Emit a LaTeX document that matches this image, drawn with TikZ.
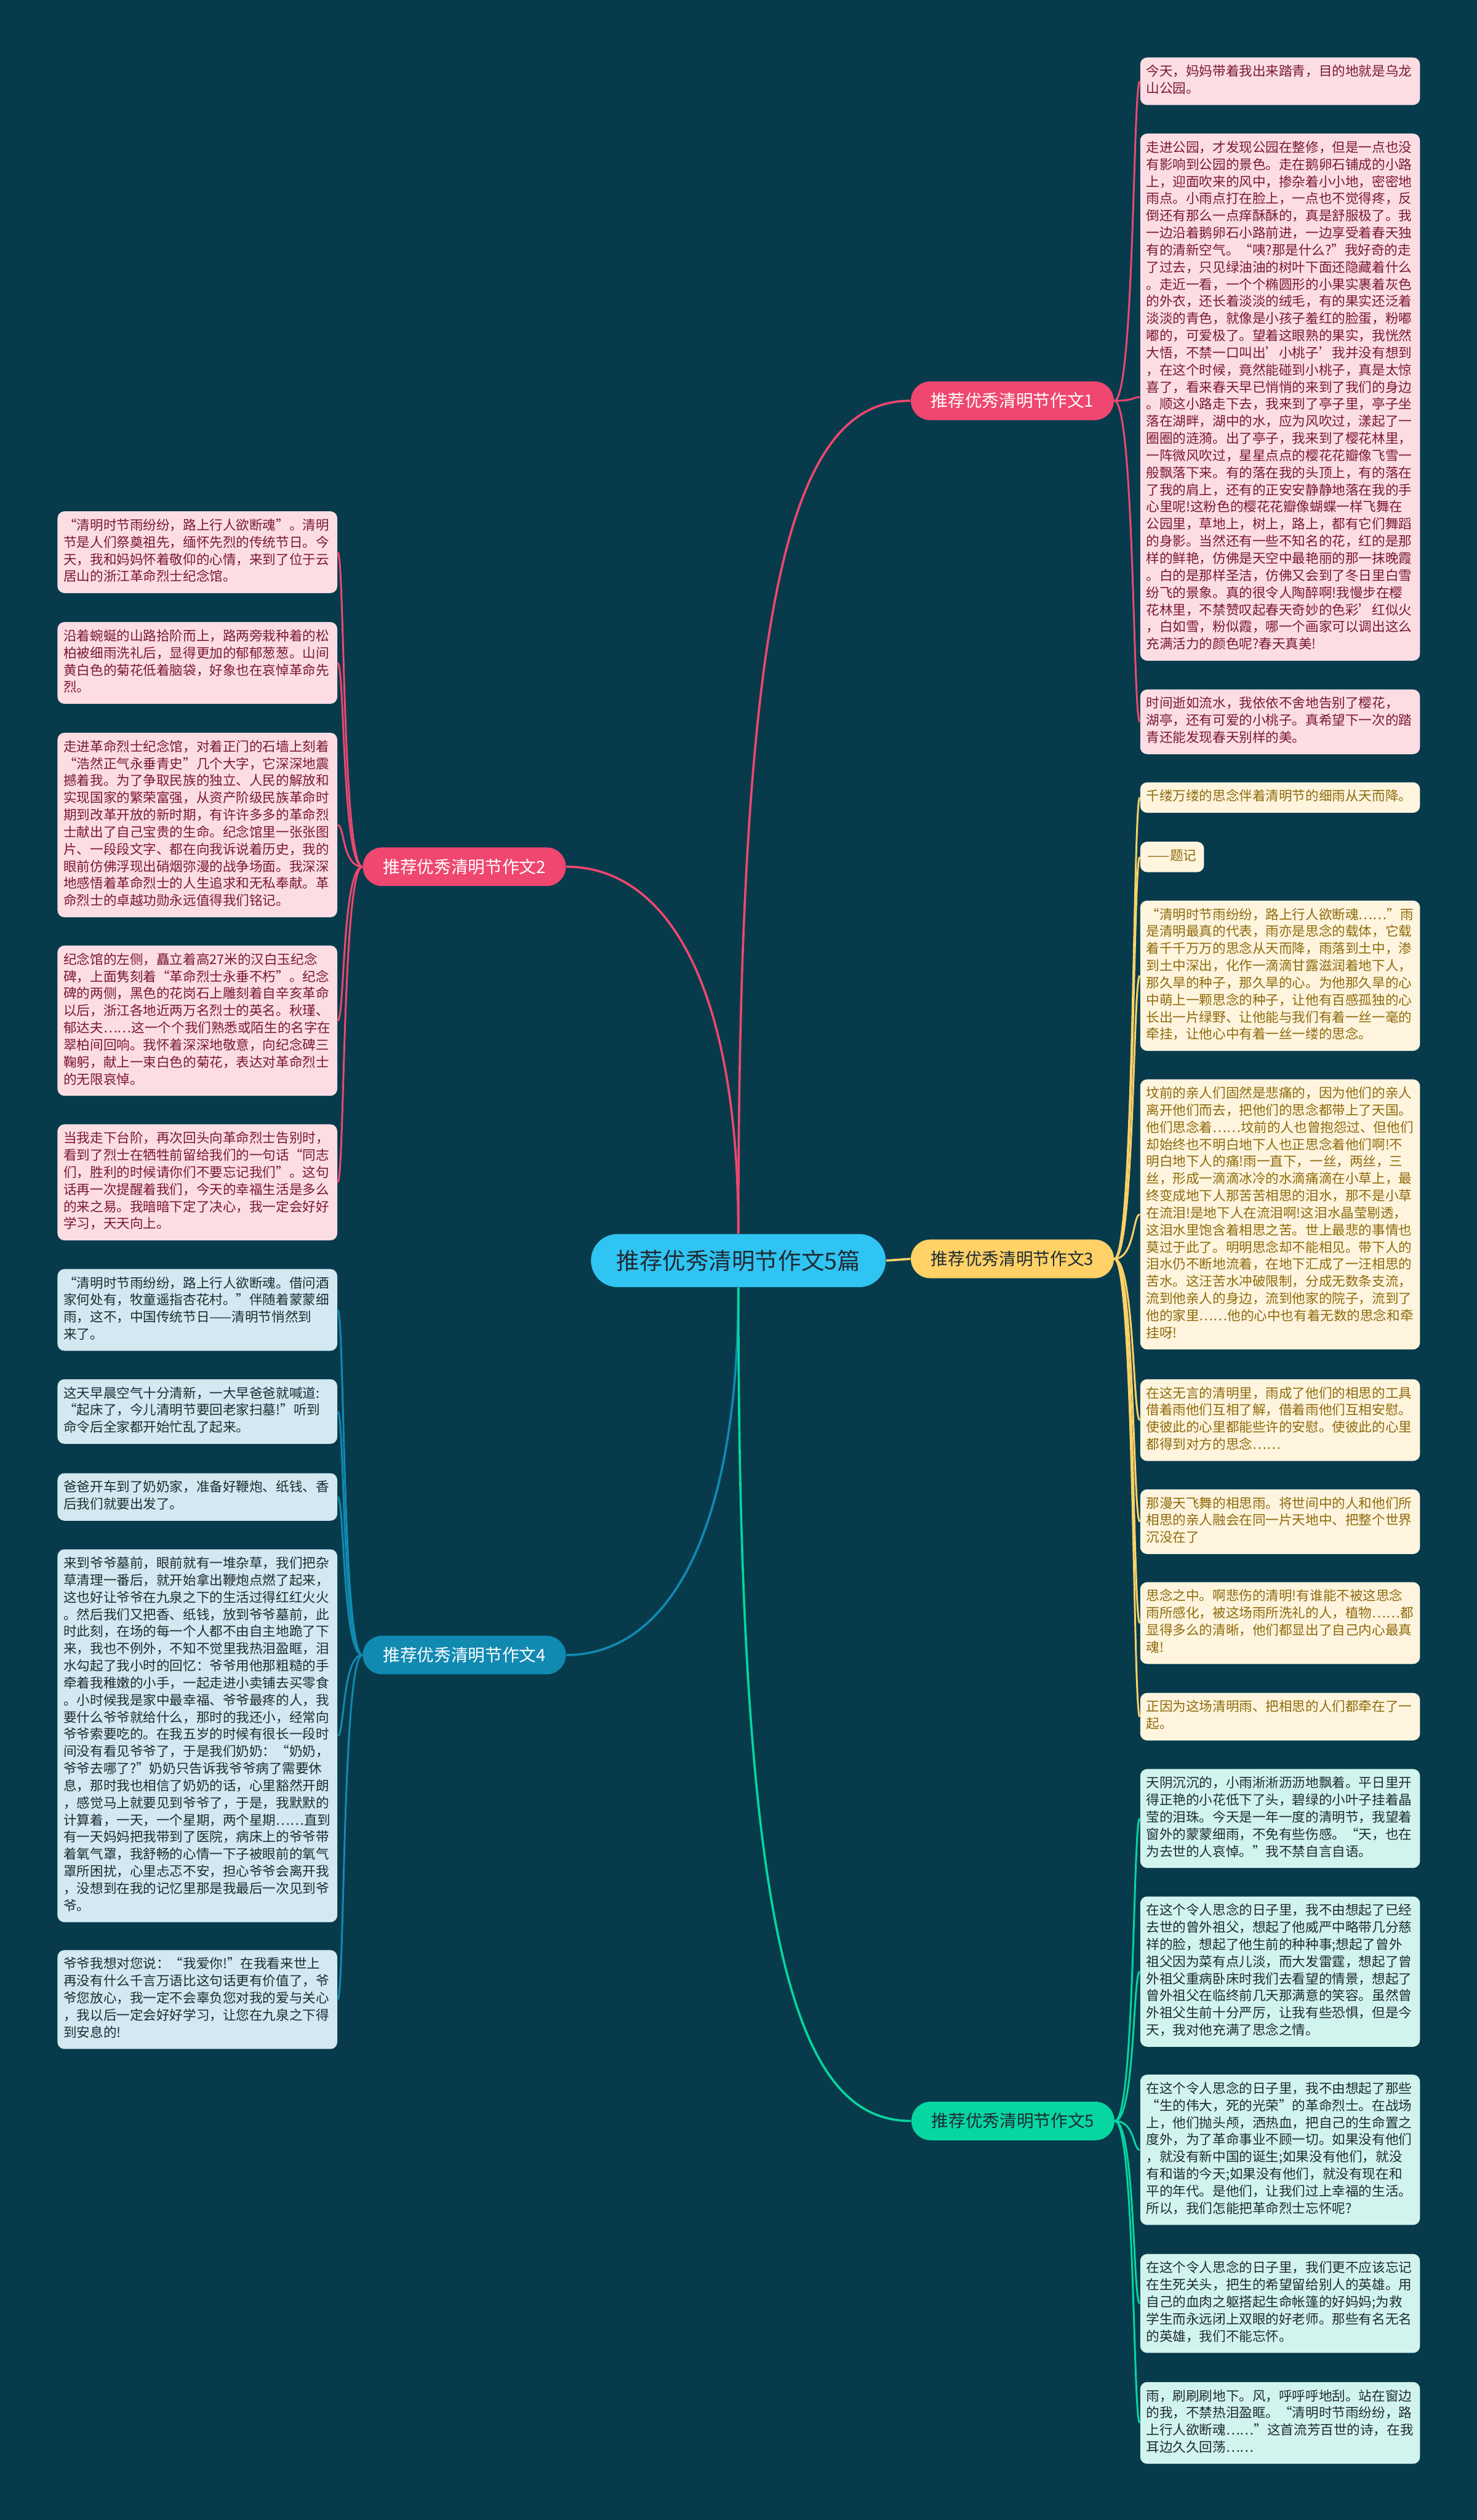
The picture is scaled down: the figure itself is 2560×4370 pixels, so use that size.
\documentclass[tikz,border=0pt]{standalone}
\usepackage{fontspec}
\setmainfont{Noto Sans CJK SC}
\definecolor{bg}{HTML}{073B4C}
\definecolor{rosa}{HTML}{EF476F}
\definecolor{gelb}{HTML}{FFD166}
\definecolor{gruen}{HTML}{06D6A0}
\definecolor{blau}{HTML}{118AB2}
\definecolor{himmel}{HTML}{30C4F3}
\definecolor{rosaleaf}{HTML}{FCDDE4}
\definecolor{gelbleaf}{HTML}{FFF5DF}
\definecolor{blauleaf}{HTML}{D3E8F0}
\definecolor{gruenleaf}{HTML}{D2F4EE}
\definecolor{rosatext}{HTML}{7A1835}
\definecolor{gelbtext}{HTML}{8F6A0A}
\definecolor{dunkel}{HTML}{1E2B33}

\begin{document}
\begin{tikzpicture}[x=0.1mm, y=-0.1mm,
        leaf/.style={anchor=north west, text width=46.4mm, align=left,
            inner xsep=1.05mm, inner ysep=1.15mm, rounded corners=1.2mm,
            font=\fontsize{6.55pt}{8.45pt}\selectfont,
            execute at begin node=\strut, execute at end node=\strut},
        rosabox/.style={leaf, fill=rosaleaf, text=rosatext},
        gelbbox/.style={leaf, fill=gelbleaf, text=gelbtext},
        blaubox/.style={leaf, fill=blauleaf, text=dunkel},
        gruenbox/.style={leaf, fill=gruenleaf, text=dunkel},
        topic/.style={minimum width=35.2mm, minimum height=6.7mm,
            rounded corners=3.35mm, inner sep=0pt,
            font=\fontsize{8.4pt}{10pt}\selectfont},
        link/.style={line width=0.9pt},
        trunk/.style={line width=1.1pt}]

        \useasboundingbox (0,0) rectangle (2560,4370);
        \fill[bg] (0,0) rectangle (2560,4370);

        % centre and branches
        \node[fill=himmel, text=dunkel, minimum width=51.1mm, minimum height=9.2mm,
            rounded corners=4.6mm, inner sep=0pt, font=\fontsize{11.4pt}{13pt}\selectfont]
            (T) at (1280,2186) {推荐优秀清明节作文5篇};
        \node[topic, fill=rosa, text=white] (P1) at (1755,695) {推荐优秀清明节作文1};
        \node[topic, fill=rosa, text=white] (P2) at (805,1503) {推荐优秀清明节作文2};
        \node[topic, fill=gelb, text=dunkel] (P3) at (1755,2183) {推荐优秀清明节作文3};
        \node[topic, fill=blau, text=white] (P4) at (805,2870) {推荐优秀清明节作文4};
        \node[topic, fill=gruen, text=dunkel] (P5) at (1756,3678) {推荐优秀清明节作文5};

        % essay 1
        \node[rosabox] (P1a) at (1976,99) {今天，妈妈带着我出来踏青，目的地就是乌龙\\
山公园。};
        \node[rosabox] (P1b) at (1976,231) {走进公园，才发现公园在整修，但是一点也没\\
有影响到公园的景色。走在鹅卵石铺成的小路\\
上，迎面吹来的风中，掺杂着小小地，密密地\\
雨点。小雨点打在脸上，一点也不觉得疼，反\\
倒还有那么一点痒酥酥的，真是舒服极了。我\\
一边沿着鹅卵石小路前进，一边享受着春天独\\
有的清新空气。“咦?那是什么?”我好奇的走\\
了过去，只见绿油油的树叶下面还隐藏着什么\\
。走近一看，一个个椭圆形的小果实裹着灰色\\
的外衣，还长着淡淡的绒毛，有的果实还泛着\\
淡淡的青色，就像是小孩子羞红的脸蛋，粉嘟\\
嘟的，可爱极了。望着这眼熟的果实，我恍然\\
大悟，不禁一口叫出'小桃子’我并没有想到\\
，在这个时候，竟然能碰到小桃子，真是太惊\\
喜了，看来春天早已悄悄的来到了我们的身边\\
。顺这小路走下去，我来到了亭子里，亭子坐\\
落在湖畔，湖中的水，应为风吹过，漾起了一\\
圈圈的涟漪。出了亭子，我来到了樱花林里，\\
一阵微风吹过，星星点点的樱花花瓣像飞雪一\\
般飘落下来。有的落在我的头顶上，有的落在\\
了我的肩上，还有的正安安静静地落在我的手\\
心里呢!这粉色的樱花花瓣像蝴蝶一样飞舞在\\
公园里，草地上，树上，路上，都有它们舞蹈\\
的身影。当然还有一些不知名的花，红的是那\\
样的鲜艳，仿佛是天空中最艳丽的那一抹晚霞\\
。白的是那样圣洁，仿佛又会到了冬日里白雪\\
纷飞的景象。真的很令人陶醉啊!我慢步在樱\\
花林里，不禁赞叹起春天奇妙的色彩'红似火\\
，白如雪，粉似霞，哪一个画家可以调出这么\\
充满活力的颜色呢?春天真美!};
        \node[rosabox] (P1c) at (1976,1195) {时间逝如流水，我依依不舍地告别了樱花，\\
湖亭，还有可爱的小桃子。真希望下一次的踏\\
青还能发现春天别样的美。};

        % essay 2
        \node[rosabox] (P2a) at (99,886) {“清明时节雨纷纷，路上行人欲断魂”。清明\\
节是人们祭奠祖先，缅怀先烈的传统节日。今\\
天，我和妈妈怀着敬仰的心情，来到了位于云\\
居山的浙江革命烈士纪念馆。};
        \node[rosabox] (P2b) at (99,1078) {沿着蜿蜒的山路拾阶而上，路两旁栽种着的松\\
柏被细雨洗礼后，显得更加的郁郁葱葱。山间\\
黄白色的菊花低着脑袋，好象也在哀悼革命先\\
烈。};
        \node[rosabox] (P2c) at (99,1270) {走进革命烈士纪念馆，对着正门的石墙上刻着\\
“浩然正气永垂青史”几个大字，它深深地震\\
撼着我。为了争取民族的独立、人民的解放和\\
实现国家的繁荣富强，从资产阶级民族革命时\\
期到改革开放的新时期，有许许多多的革命烈\\
士献出了自己宝贵的生命。纪念馆里一张张图\\
片、一段段文字、都在向我诉说着历史，我的\\
眼前仿佛浮现出硝烟弥漫的战争场面。我深深\\
地感悟着革命烈士的人生追求和无私奉献。革\\
命烈士的卓越功勋永远值得我们铭记。};
        \node[rosabox] (P2d) at (99,1639) {纪念馆的左侧，矗立着高27米的汉白玉纪念\\
碑，上面隽刻着“革命烈士永垂不朽”。纪念\\
碑的两侧，黑色的花岗石上雕刻着自辛亥革命\\
以后，浙江各地近两万名烈士的英名。秋瑾、\\
郁达夫……这一个个我们熟悉或陌生的名字在\\
翠柏间回响。我怀着深深地敬意，向纪念碑三\\
鞠躬，献上一束白色的菊花，表达对革命烈士\\
的无限哀悼。};
        \node[rosabox] (P2e) at (99,1949) {当我走下台阶，再次回头向革命烈士告别时，\\
看到了烈士在牺牲前留给我们的一句话“同志\\
们，胜利的时候请你们不要忘记我们”。这句\\
话再一次提醒着我们，今天的幸福生活是多么\\
的来之易。我暗暗下定了决心，我一定会好好\\
学习，天天向上。};

        % essay 3
        \node[gelbbox] (P3a) at (1976,1356) {千缕万缕的思念伴着清明节的细雨从天而降。};
        \node[gelbbox, text width=, inner xsep=1.3mm] (P3b) at (1976,1459) {——题记};
        \node[gelbbox] (P3c) at (1976,1561) {“清明时节雨纷纷，路上行人欲断魂……”雨\\
是清明最真的代表，雨亦是思念的载体，它载\\
着千千万万的思念从天而降，雨落到土中，渗\\
到土中深出，化作一滴滴甘露滋润着地下人，\\
那久旱的种子，那久旱的心。为他那久旱的心\\
中萌上一颗思念的种子，让他有百感孤独的心\\
长出一片绿野、让他能与我们有着一丝一毫的\\
牵挂，让他心中有着一丝一缕的思念。};
        \node[gelbbox] (P3d) at (1976,1871) {坟前的亲人们固然是悲痛的，因为他们的亲人\\
离开他们而去，把他们的思念都带上了天国。\\
他们思念着……坟前的人也曾抱怨过、但他们\\
却始终也不明白地下人也正思念着他们啊!不\\
明白地下人的痛!雨一直下，一丝，两丝，三\\
丝，形成一滴滴冰冷的水滴痛滴在小草上，最\\
终变成地下人那苦苦相思的泪水，那不是小草\\
在流泪!是地下人在流泪啊!这泪水晶莹剔透，\\
这泪水里饱含着相思之苦。世上最悲的事情也\\
莫过于此了。明明思念却不能相见。带下人的\\
泪水仍不断地流着，在地下汇成了一汪相思的\\
苦水。这汪苦水冲破限制，分成无数条支流，\\
流到他亲人的身边，流到他家的院子，流到了\\
他的家里……他的心中也有着无数的思念和牵\\
挂呀!};
        \node[gelbbox] (P3e) at (1976,2391) {在这无言的清明里，雨成了他们的相思的工具\\
借着雨他们互相了解，借着雨他们互相安慰。\\
使彼此的心里都能些许的安慰。使彼此的心里\\
都得到对方的思念……};
        \node[gelbbox] (P3f) at (1976,2582) {那漫天飞舞的相思雨。将世间中的人和他们所\\
相思的亲人融会在同一片天地中、把整个世界\\
沉没在了};
        \node[gelbbox] (P3g) at (1976,2743) {思念之中。啊悲伤的清明!有谁能不被这思念\\
雨所感化，被这场雨所洗礼的人，植物……都\\
显得多么的清晰，他们都显出了自己内心最真\\
魂!};
        \node[gelbbox] (P3h) at (1976,2935) {正因为这场清明雨、把相思的人们都牵在了一\\
起。};

        % essay 4
        \node[blaubox] (P4a) at (99,2200) {“清明时节雨纷纷，路上行人欲断魂。借问酒\\
家何处有，牧童遥指杏花村。”伴随着蒙蒙细\\
雨，这不，中国传统节日——清明节悄然到\\
来了。};
        \node[blaubox] (P4b) at (99,2391) {这天早晨空气十分清新，一大早爸爸就喊道:\\
“起床了，今儿清明节要回老家扫墓!”听到\\
命令后全家都开始忙乱了起来。};
        \node[blaubox] (P4c) at (99,2554) {爸爸开车到了奶奶家，准备好鞭炮、纸钱、香\\
后我们就要出发了。};
        \node[blaubox] (P4d) at (99,2686) {来到爷爷墓前，眼前就有一堆杂草，我们把杂\\
草清理一番后，就开始拿出鞭炮点燃了起来，\\
这也好让爷爷在九泉之下的生活过得红红火火\\
。然后我们又把香、纸钱，放到爷爷墓前，此\\
时此刻，在场的每一个人都不由自主地跪了下\\
来，我也不例外，不知不觉里我热泪盈眶，泪\\
水勾起了我小时的回忆：爷爷用他那粗糙的手\\
牵着我稚嫩的小手，一起走进小卖铺去买零食\\
。小时候我是家中最幸福、爷爷最疼的人，我\\
要什么爷爷就给什么，那时的我还小，经常向\\
爷爷索要吃的。在我五岁的时候有很长一段时\\
间没有看见爷爷了，于是我们奶奶：“奶奶，\\
爷爷去哪了?”奶奶只告诉我爷爷病了需要休\\
息，那时我也相信了奶奶的话，心里豁然开朗\\
，感觉马上就要见到爷爷了，于是，我默默的\\
计算着，一天，一个星期，两个星期……直到\\
有一天妈妈把我带到了医院，病床上的爷爷带\\
着氧气罩，我舒畅的心情一下子被眼前的氧气\\
罩所困扰，心里忐忑不安，担心爷爷会离开我\\
，没想到在我的记忆里那是我最后一次见到爷\\
爷。};
        \node[blaubox] (P4e) at (99,3381) {爷爷我想对您说：“我爱你!”在我看来世上\\
再没有什么千言万语比这句话更有价值了，爷\\
爷您放心，我一定不会辜负您对我的爱与关心\\
，我以后一定会好好学习，让您在九泉之下得\\
到安息的!};

        % essay 5
        \node[gruenbox] (P5a) at (1976,3067) {天阴沉沉的，小雨淅淅沥沥地飘着。平日里开\\
得正艳的小花低下了头，碧绿的小叶子挂着晶\\
莹的泪珠。今天是一年一度的清明节，我望着\\
窗外的蒙蒙细雨，不免有些伤感。“天，也在\\
为去世的人哀悼。”我不禁自言自语。};
        \node[gruenbox] (P5b) at (1976,3288) {在这个令人思念的日子里，我不由想起了已经\\
去世的曾外祖父，想起了他威严中略带几分慈\\
祥的脸，想起了他生前的种种事;想起了曾外\\
祖父因为菜有点儿淡，而大发雷霆，想起了曾\\
外祖父重病卧床时我们去看望的情景，想起了\\
曾外祖父在临终前几天那满意的笑容。虽然曾\\
外祖父生前十分严厉，让我有些恐惧，但是今\\
天，我对他充满了思念之情。};
        \node[gruenbox] (P5c) at (1976,3597) {在这个令人思念的日子里，我不由想起了那些\\
“生的伟大，死的光荣”的革命烈士。在战场\\
上，他们抛头颅，洒热血，把自己的生命置之\\
度外，为了革命事业不顾一切。如果没有他们\\
，就没有新中国的诞生;如果没有他们，就没\\
有和谐的今天;如果没有他们，就没有现在和\\
平的年代。是他们，让我们过上幸福的生活。\\
所以，我们怎能把革命烈士忘怀呢?};
        \node[gruenbox] (P5d) at (1976,3908) {在这个令人思念的日子里，我们更不应该忘记\\
在生死关头，把生的希望留给别人的英雄。用\\
自己的血肉之躯搭起生命帐篷的好妈妈;为救\\
学生而永远闭上双眼的好老师。那些有名无名\\
的英雄，我们不能忘怀。};
        \node[gruenbox] (P5e) at (1976,4130) {雨，刷刷刷地下。风，呼呼呼地刮。站在窗边\\
的我，不禁热泪盈眶。“清明时节雨纷纷，路\\
上行人欲断魂……”这首流芳百世的诗，在我\\
耳边久久回荡……};

        % trunks
        \draw[trunk, rosa] (T.north) .. controls +(0,-1140) and +(-200,0) .. (P1.west);
        \draw[trunk, rosa] (T.north) .. controls +(0,-440) and +(170,0) .. (P2.east);
        \draw[trunk, gelb] (T.east) -- (P3.west);
        \draw[trunk, blau] (T.south) .. controls +(0,440) and +(170,0) .. (P4.east);
        \draw[trunk, gruen] (T.south) .. controls +(0,1140) and +(-200,0) .. (P5.west);

        % twigs
        \draw[link, rosa] (P1.east) .. controls +(35,0) and +(-12,0) .. (P1a.west);
        \draw[link, rosa] (P1.east) .. controls +(35,0) and +(-12,0) .. (P1b.west);
        \draw[link, rosa] (P1.east) .. controls +(35,0) and +(-12,0) .. (P1c.west);
        \draw[link, rosa] (P2.west) .. controls +(-35,0) and +(12,0) .. (P2a.east);
        \draw[link, rosa] (P2.west) .. controls +(-35,0) and +(12,0) .. (P2b.east);
        \draw[link, rosa] (P2.west) .. controls +(-35,0) and +(12,0) .. (P2c.east);
        \draw[link, rosa] (P2.west) .. controls +(-35,0) and +(12,0) .. (P2d.east);
        \draw[link, rosa] (P2.west) .. controls +(-35,0) and +(12,0) .. (P2e.east);
        \draw[link, gelb] (P3.east) .. controls +(35,0) and +(-12,0) .. (P3a.west);
        \draw[link, gelb] (P3.east) .. controls +(35,0) and +(-12,0) .. (P3b.west);
        \draw[link, gelb] (P3.east) .. controls +(35,0) and +(-12,0) .. (P3c.west);
        \draw[link, gelb] (P3.east) .. controls +(35,0) and +(-12,0) .. (P3d.west);
        \draw[link, gelb] (P3.east) .. controls +(35,0) and +(-12,0) .. (P3e.west);
        \draw[link, gelb] (P3.east) .. controls +(35,0) and +(-12,0) .. (P3f.west);
        \draw[link, gelb] (P3.east) .. controls +(35,0) and +(-12,0) .. (P3g.west);
        \draw[link, gelb] (P3.east) .. controls +(35,0) and +(-12,0) .. (P3h.west);
        \draw[link, blau] (P4.west) .. controls +(-35,0) and +(12,0) .. (P4a.east);
        \draw[link, blau] (P4.west) .. controls +(-35,0) and +(12,0) .. (P4b.east);
        \draw[link, blau] (P4.west) .. controls +(-35,0) and +(12,0) .. (P4c.east);
        \draw[link, blau] (P4.west) .. controls +(-35,0) and +(12,0) .. (P4d.east);
        \draw[link, blau] (P4.west) .. controls +(-35,0) and +(12,0) .. (P4e.east);
        \draw[link, gruen] (P5.east) .. controls +(35,0) and +(-12,0) .. (P5a.west);
        \draw[link, gruen] (P5.east) .. controls +(35,0) and +(-12,0) .. (P5b.west);
        \draw[link, gruen] (P5.east) .. controls +(35,0) and +(-12,0) .. (P5c.west);
        \draw[link, gruen] (P5.east) .. controls +(35,0) and +(-12,0) .. (P5d.west);
        \draw[link, gruen] (P5.east) .. controls +(35,0) and +(-12,0) .. (P5e.west);

    \end{tikzpicture}
\end{document}
